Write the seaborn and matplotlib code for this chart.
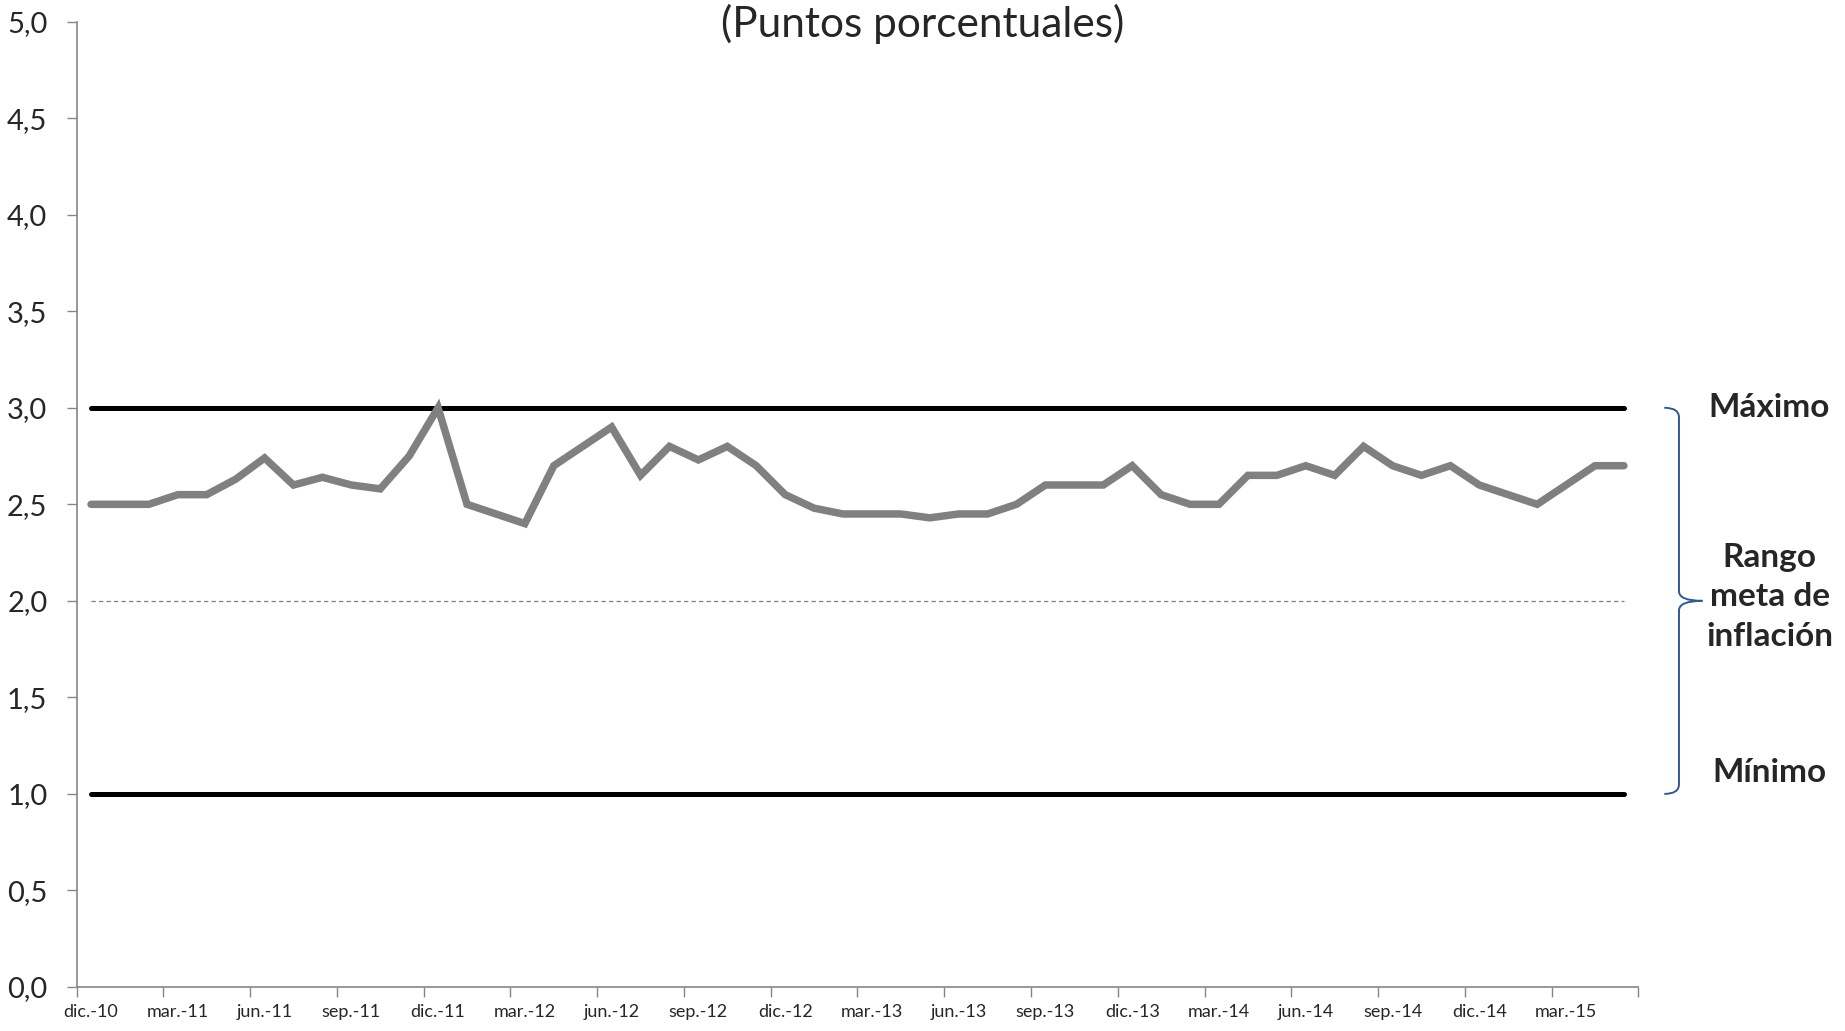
import matplotlib
matplotlib.use("Agg")
import matplotlib.pyplot as plt
from matplotlib.path import Path
from matplotlib.patches import PathPatch
from matplotlib.ticker import FixedLocator, FuncFormatter
import numpy as np
import pandas as pd
import seaborn as sns

# monthly categories, dic.-10 .. may.-15
meses = [
    "dic.-10",
    "ene.-11", "feb.-11", "mar.-11", "abr.-11", "may.-11", "jun.-11",
    "jul.-11", "ago.-11", "sep.-11", "oct.-11", "nov.-11", "dic.-11",
    "ene.-12", "feb.-12", "mar.-12", "abr.-12", "may.-12", "jun.-12",
    "jul.-12", "ago.-12", "sep.-12", "oct.-12", "nov.-12", "dic.-12",
    "ene.-13", "feb.-13", "mar.-13", "abr.-13", "may.-13", "jun.-13",
    "jul.-13", "ago.-13", "sep.-13", "oct.-13", "nov.-13", "dic.-13",
    "ene.-14", "feb.-14", "mar.-14", "abr.-14", "may.-14", "jun.-14",
    "jul.-14", "ago.-14", "sep.-14", "oct.-14", "nov.-14", "dic.-14",
    "ene.-15", "feb.-15", "mar.-15", "abr.-15", "may.-15",
]
valores = [
    2.50,
    2.50, 2.50, 2.55, 2.55, 2.63, 2.74,
    2.60, 2.64, 2.60, 2.58, 2.75, 3.00,
    2.50, 2.45, 2.40, 2.70, 2.80, 2.90,
    2.65, 2.80, 2.73, 2.80, 2.70, 2.55,
    2.48, 2.45, 2.45, 2.45, 2.43, 2.45,
    2.45, 2.50, 2.60, 2.60, 2.60, 2.70,
    2.55, 2.50, 2.50, 2.65, 2.65, 2.70,
    2.65, 2.80, 2.70, 2.65, 2.70, 2.60,
    2.55, 2.50, 2.60, 2.70, 2.70,
]
rango_max = 3.0
rango_min = 1.0
meta = 2.0
y_ticks = [0.0, 0.5, 1.0, 1.5, 2.0, 2.5, 3.0, 3.5, 4.0, 4.5, 5.0]

sns.set_style("white")
plt.rcParams["font.family"] = ["Lato", "DejaVu Sans"]

df = pd.DataFrame({"mes": meses, "valor": valores})
df["pos"] = np.arange(len(df))
n = len(df)

fig = plt.figure(figsize=(18.45, 10.31), dpi=100)
ax = fig.add_axes([0.0415, 0.0427, 0.8465, 0.9363])

ax.hlines(rango_max, 0, n - 1, color="black", lw=3.6, capstyle="round", zorder=3)
ax.hlines(rango_min, 0, n - 1, color="black", lw=3.6, capstyle="round", zorder=3)
ax.hlines(meta, 0, n - 1, color="#7f7f7f", lw=0.9, linestyles=(0, (3.5, 2.5)), zorder=2)
sns.lineplot(data=df, x="pos", y="valor", color="#808080", lw=5.4, ax=ax, zorder=4,
             solid_capstyle="round", solid_joinstyle="miter")

ax.set_xlim(-0.5, n - 0.5)
ax.set_ylim(0, 5)
ax.set_yticks(y_ticks)
ax.yaxis.set_major_formatter(FuncFormatter(lambda v, p: f"{v:.1f}".replace(".", ",")))
ax.set_xticks(df["pos"][::3])
ax.set_xticklabels(df["mes"][::3])
ax.xaxis.set_minor_locator(FixedLocator(np.arange(-0.5, n, 3)))
ax.tick_params(axis="x", which="major", length=0, pad=12, labelsize=13)
ax.tick_params(axis="x", which="minor", length=7, width=1, color="#868686", direction="out", bottom=True)
ax.tick_params(axis="y", which="major", length=7, width=1, color="#868686", direction="out", left=True,
               pad=14, labelsize=21)
ax.set_xlabel("")
ax.set_ylabel("")
for s in ["top", "right"]:
    ax.spines[s].set_visible(False)
for s in ["left", "bottom"]:
    ax.spines[s].set_color("#868686")
    ax.spines[s].set_linewidth(1.2)

fig.text(0.5, 1 - 24 / 1031, "(Puntos porcentuales)", ha="center", va="center", fontsize=30.5)

# brace + labels on the right
tr = ax.get_yaxis_transform()
xh, xv, xt = 1.0166, 1.026, 1.041
r = 0.05
verts = [(xh, rango_max), (xv, rango_max), (xv, rango_max - r),
         (xv, meta + r), (xv, meta), (xt, meta),
         (xv, meta), (xv, meta - r),
         (xv, rango_min + r), (xv, rango_min), (xh, rango_min)]
codes = [Path.MOVETO, Path.CURVE3, Path.CURVE3,
         Path.LINETO, Path.CURVE3, Path.CURVE3,
         Path.CURVE3, Path.CURVE3,
         Path.LINETO, Path.CURVE3, Path.CURVE3]
ax.add_patch(PathPatch(Path(verts, codes), transform=tr, fill=False, edgecolor="#2E5A8E",
                       lw=1.4, clip_on=False))

xl = 1.084
ax.text(xl, rango_max, "Máximo", transform=tr, ha="center", va="center",
        fontsize=24, fontweight="bold", clip_on=False)
ax.text(xl, meta + 0.02, "Rango\nmeta de\ninflación", transform=tr, ha="center", va="center",
        fontsize=24, fontweight="bold", linespacing=1.45, clip_on=False)
ax.text(xl, 1.11, "Mínimo", transform=tr, ha="center", va="center",
        fontsize=24, fontweight="bold", clip_on=False)

fig.savefig("out.png", dpi=100)
